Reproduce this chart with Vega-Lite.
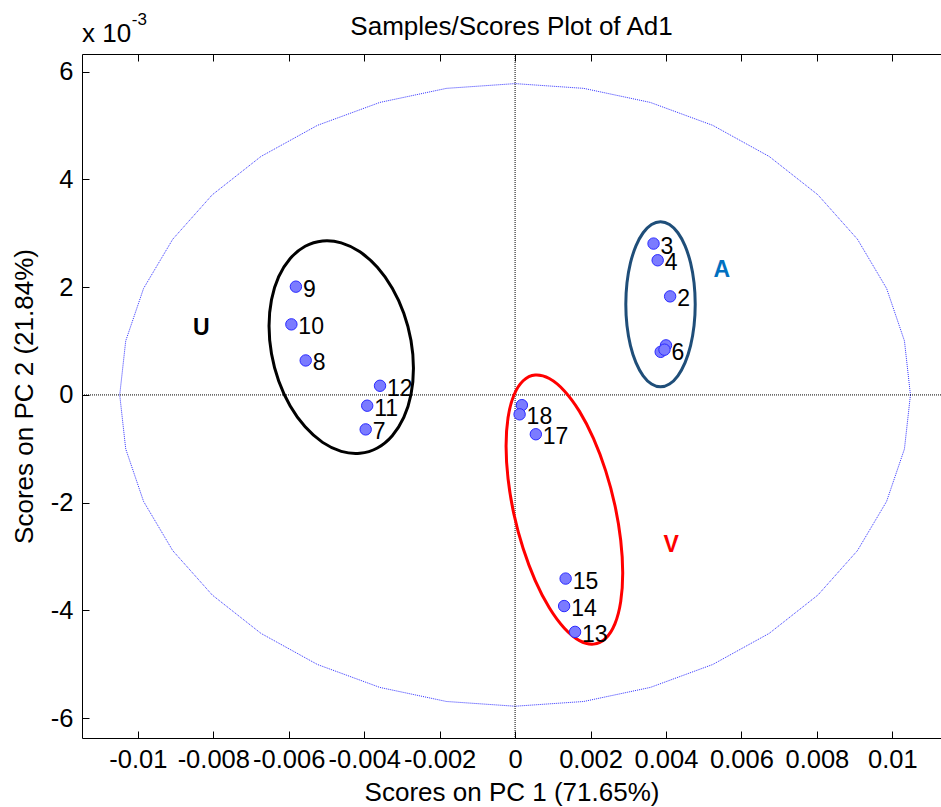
{
  "$schema": "https://vega.github.io/schema/vega-lite/v6.json",
  "width": 859,
  "height": 684,
  "autosize": {"type": "none"},
  "padding": {"left": 82, "top": 54, "right": 0, "bottom": 69},
  "background": "white",
  "config": {"view": {"stroke": null}, "font": "Liberation Sans"},
  "title": {"text": "Samples/Scores Plot of Ad1", "fontSize": 26, "fontWeight": "normal", "font": "Liberation Sans", "color": "black", "anchor": "middle", "baseline": "alphabetic", "offset": -50, "frame": "group"},
  "data": {"values": [{}]},
  "resolve": {"axis": {"x": "independent", "y": "independent"}},
  "datasets": {
    "samples": [
      {"sample": 1, "label": "", "pc1": 0.00386, "pc2": 0.00080},
      {"sample": 2, "label": "2", "pc1": 0.00411, "pc2": 0.00183},
      {"sample": 3, "label": "3", "pc1": 0.00367, "pc2": 0.00281},
      {"sample": 4, "label": "4", "pc1": 0.00378, "pc2": 0.00250},
      {"sample": 5, "label": "", "pc1": 0.00400, "pc2": 0.00092},
      {"sample": 6, "label": "6", "pc1": 0.00396, "pc2": 0.00084},
      {"sample": 7, "label": "7", "pc1": -0.00396, "pc2": -0.00064},
      {"sample": 8, "label": "8", "pc1": -0.00555, "pc2": 0.00064},
      {"sample": 9, "label": "9", "pc1": -0.00581, "pc2": 0.00201},
      {"sample": 10, "label": "10", "pc1": -0.00593, "pc2": 0.00131},
      {"sample": 11, "label": "11", "pc1": -0.00392, "pc2": -0.00020},
      {"sample": 12, "label": "12", "pc1": -0.00358, "pc2": 0.00017},
      {"sample": 13, "label": "13", "pc1": 0.00159, "pc2": -0.00440},
      {"sample": 14, "label": "14", "pc1": 0.00130, "pc2": -0.00392},
      {"sample": 15, "label": "15", "pc1": 0.00134, "pc2": -0.00341},
      {"sample": 16, "label": "", "pc1": 0.00018, "pc2": -0.00019},
      {"sample": 17, "label": "17", "pc1": 0.00055, "pc2": -0.00073},
      {"sample": 18, "label": "18", "pc1": 0.00012, "pc2": -0.00036}
    ],
    "limit": [
      {"i": 0, "pc1": 0.01048, "pc2": 0},
      {"i": 1, "pc1": 0.010321, "pc2": 0.001003},
      {"i": 2, "pc1": 0.009848, "pc2": 0.001977},
      {"i": 3, "pc1": 0.009076, "pc2": 0.002890},
      {"i": 4, "pc1": 0.008028, "pc2": 0.003715},
      {"i": 5, "pc1": 0.006737, "pc2": 0.004427},
      {"i": 6, "pc1": 0.005240, "pc2": 0.005005},
      {"i": 7, "pc1": 0.003584, "pc2": 0.005431},
      {"i": 8, "pc1": 0.001819, "pc2": 0.005692},
      {"i": 9, "pc1": 0, "pc2": 0.00578},
      {"i": 10, "pc1": -0.001819, "pc2": 0.005692},
      {"i": 11, "pc1": -0.003584, "pc2": 0.005431},
      {"i": 12, "pc1": -0.005240, "pc2": 0.005005},
      {"i": 13, "pc1": -0.006737, "pc2": 0.004427},
      {"i": 14, "pc1": -0.008028, "pc2": 0.003715},
      {"i": 15, "pc1": -0.009076, "pc2": 0.002890},
      {"i": 16, "pc1": -0.009848, "pc2": 0.001977},
      {"i": 17, "pc1": -0.010321, "pc2": 0.001003},
      {"i": 18, "pc1": -0.01048, "pc2": 0},
      {"i": 19, "pc1": -0.010321, "pc2": -0.001003},
      {"i": 20, "pc1": -0.009848, "pc2": -0.001977},
      {"i": 21, "pc1": -0.009076, "pc2": -0.002890},
      {"i": 22, "pc1": -0.008028, "pc2": -0.003715},
      {"i": 23, "pc1": -0.006737, "pc2": -0.004427},
      {"i": 24, "pc1": -0.005240, "pc2": -0.005005},
      {"i": 25, "pc1": -0.003584, "pc2": -0.005431},
      {"i": 26, "pc1": -0.001819, "pc2": -0.005692},
      {"i": 27, "pc1": 0, "pc2": -0.00578},
      {"i": 28, "pc1": 0.001819, "pc2": -0.005692},
      {"i": 29, "pc1": 0.003584, "pc2": -0.005431},
      {"i": 30, "pc1": 0.005240, "pc2": -0.005005},
      {"i": 31, "pc1": 0.006737, "pc2": -0.004427},
      {"i": 32, "pc1": 0.008028, "pc2": -0.003715},
      {"i": 33, "pc1": 0.009076, "pc2": -0.002890},
      {"i": 34, "pc1": 0.009848, "pc2": -0.001977},
      {"i": 35, "pc1": 0.010321, "pc2": -0.001003}
    ],
    "groups": [
      {"g": "U", "i": 0, "pc1": -0.002694, "pc2": 0.000497},
      {"g": "U", "i": 1, "pc1": -0.002759, "pc2": 0.000009},
      {"g": "U", "i": 2, "pc1": -0.002950, "pc2": -0.000419},
      {"g": "U", "i": 3, "pc1": -0.003255, "pc2": -0.000757},
      {"g": "U", "i": 4, "pc1": -0.003651, "pc2": -0.000985},
      {"g": "U", "i": 5, "pc1": -0.004113, "pc2": -0.001083},
      {"g": "U", "i": 6, "pc1": -0.004608, "pc2": -0.001048},
      {"g": "U", "i": 7, "pc1": -0.005103, "pc2": -0.000881},
      {"g": "U", "i": 8, "pc1": -0.005565, "pc2": -0.000593},
      {"g": "U", "i": 9, "pc1": -0.005961, "pc2": -0.000205},
      {"g": "U", "i": 10, "pc1": -0.006266, "pc2": 0.000259},
      {"g": "U", "i": 11, "pc1": -0.006457, "pc2": 0.000765},
      {"g": "U", "i": 12, "pc1": -0.006522, "pc2": 0.001279},
      {"g": "U", "i": 13, "pc1": -0.006457, "pc2": 0.001767},
      {"g": "U", "i": 14, "pc1": -0.006266, "pc2": 0.002195},
      {"g": "U", "i": 15, "pc1": -0.005961, "pc2": 0.002533},
      {"g": "U", "i": 16, "pc1": -0.005565, "pc2": 0.002761},
      {"g": "U", "i": 17, "pc1": -0.005103, "pc2": 0.002859},
      {"g": "U", "i": 18, "pc1": -0.004608, "pc2": 0.002824},
      {"g": "U", "i": 19, "pc1": -0.004113, "pc2": 0.002657},
      {"g": "U", "i": 20, "pc1": -0.003651, "pc2": 0.002369},
      {"g": "U", "i": 21, "pc1": -0.003255, "pc2": 0.001981},
      {"g": "U", "i": 22, "pc1": -0.002950, "pc2": 0.001517},
      {"g": "U", "i": 23, "pc1": -0.002759, "pc2": 0.001011},
      {"g": "V", "i": 0, "pc1": 0.002853, "pc2": -0.003308},
      {"g": "V", "i": 1, "pc1": 0.002800, "pc2": -0.003838},
      {"g": "V", "i": 2, "pc1": 0.002646, "pc2": -0.004252},
      {"g": "V", "i": 3, "pc1": 0.002400, "pc2": -0.004521},
      {"g": "V", "i": 4, "pc1": 0.002080, "pc2": -0.004627},
      {"g": "V", "i": 5, "pc1": 0.001707, "pc2": -0.004562},
      {"g": "V", "i": 6, "pc1": 0.001307, "pc2": -0.004332},
      {"g": "V", "i": 7, "pc1": 0.000907, "pc2": -0.003952},
      {"g": "V", "i": 8, "pc1": 0.000534, "pc2": -0.003447},
      {"g": "V", "i": 9, "pc1": 0.000214, "pc2": -0.002853},
      {"g": "V", "i": 10, "pc1": -0.000032, "pc2": -0.002210},
      {"g": "V", "i": 11, "pc1": -0.000186, "pc2": -0.001560},
      {"g": "V", "i": 12, "pc1": -0.000239, "pc2": -0.000950},
      {"g": "V", "i": 13, "pc1": -0.000186, "pc2": -0.000420},
      {"g": "V", "i": 14, "pc1": -0.000032, "pc2": -0.000006},
      {"g": "V", "i": 15, "pc1": 0.000214, "pc2": 0.000263},
      {"g": "V", "i": 16, "pc1": 0.000534, "pc2": 0.000369},
      {"g": "V", "i": 17, "pc1": 0.000907, "pc2": 0.000304},
      {"g": "V", "i": 18, "pc1": 0.001307, "pc2": 0.000074},
      {"g": "V", "i": 19, "pc1": 0.001707, "pc2": -0.000306},
      {"g": "V", "i": 20, "pc1": 0.002080, "pc2": -0.000811},
      {"g": "V", "i": 21, "pc1": 0.002400, "pc2": -0.001405},
      {"g": "V", "i": 22, "pc1": 0.002646, "pc2": -0.002048},
      {"g": "V", "i": 23, "pc1": 0.002800, "pc2": -0.002698},
      {"g": "A", "i": 0, "pc1": 0.004775, "pc2": 0.001683},
      {"g": "A", "i": 1, "pc1": 0.004744, "pc2": 0.001286},
      {"g": "A", "i": 2, "pc1": 0.004652, "pc2": 0.000916},
      {"g": "A", "i": 3, "pc1": 0.004506, "pc2": 0.000599},
      {"g": "A", "i": 4, "pc1": 0.004315, "pc2": 0.000355},
      {"g": "A", "i": 5, "pc1": 0.004093, "pc2": 0.000202},
      {"g": "A", "i": 6, "pc1": 0.003855, "pc2": 0.000150},
      {"g": "A", "i": 7, "pc1": 0.003617, "pc2": 0.000202},
      {"g": "A", "i": 8, "pc1": 0.003395, "pc2": 0.000355},
      {"g": "A", "i": 9, "pc1": 0.003204, "pc2": 0.000599},
      {"g": "A", "i": 10, "pc1": 0.003058, "pc2": 0.000916},
      {"g": "A", "i": 11, "pc1": 0.002966, "pc2": 0.001286},
      {"g": "A", "i": 12, "pc1": 0.002935, "pc2": 0.001683},
      {"g": "A", "i": 13, "pc1": 0.002966, "pc2": 0.002080},
      {"g": "A", "i": 14, "pc1": 0.003058, "pc2": 0.002450},
      {"g": "A", "i": 15, "pc1": 0.003204, "pc2": 0.002767},
      {"g": "A", "i": 16, "pc1": 0.003395, "pc2": 0.003011},
      {"g": "A", "i": 17, "pc1": 0.003617, "pc2": 0.003164},
      {"g": "A", "i": 18, "pc1": 0.003855, "pc2": 0.003216},
      {"g": "A", "i": 19, "pc1": 0.004093, "pc2": 0.003164},
      {"g": "A", "i": 20, "pc1": 0.004315, "pc2": 0.003011},
      {"g": "A", "i": 21, "pc1": 0.004506, "pc2": 0.002767},
      {"g": "A", "i": 22, "pc1": 0.004652, "pc2": 0.002450},
      {"g": "A", "i": 23, "pc1": 0.004744, "pc2": 0.002080}
    ]
  },
  "layer": [
    {
      "data": {"name": "limit"},
      "mark": {"type": "line", "interpolate": "linear-closed", "color": "#1a1aff", "strokeWidth": 0.9, "strokeDash": [1, 1]},
      "encoding": {
        "x": {"field": "pc1", "type": "quantitative",
          "scale": {"domain": [-0.01148, 0.01129], "nice": false, "zero": false},
          "axis": {"orient": "bottom", "values": [-0.01, -0.008, -0.006, -0.004, -0.002, 0, 0.002, 0.004, 0.006, 0.008, 0.01],
            "labelExpr": "replace(format(datum.value, '~g'), '\u2212', '-')",
            "title": "Scores on PC 1 (71.65%)", "grid": false, "domainColor": "black", "tickColor": "black",
            "tickSize": -7, "labelPadding": 16, "labelFontSize": 25.5, "labelFont": "Liberation Sans", "labelColor": "black",
            "titleFontSize": 26, "titleFont": "Liberation Sans", "titleFontWeight": "normal", "titleColor": "black", "titlePadding": 7,
            "labelFlush": false, "labelOverlap": false}},
        "y": {"field": "pc2", "type": "quantitative",
          "scale": {"domain": [-0.00637, 0.00633], "nice": false, "zero": false},
          "axis": {"orient": "left", "values": [-0.006, -0.004, -0.002, 0, 0.002, 0.004, 0.006],
            "labelExpr": "replace(format(datum.value * 1000, '~g'), '\u2212', '-')",
            "title": "Scores on PC 2 (21.84%)", "grid": false, "domainColor": "black", "tickColor": "black",
            "tickSize": -7, "labelPadding": 16, "labelFontSize": 25.5, "labelFont": "Liberation Sans", "labelColor": "black",
            "titleFontSize": 26, "titleFont": "Liberation Sans", "titleFontWeight": "normal", "titleColor": "black", "titlePadding": 13,
            "labelFlush": false, "labelOverlap": false}},
        "order": {"field": "i", "type": "quantitative"}
      }
    },
    {
      "mark": {"type": "rule", "color": "black", "strokeWidth": 1, "strokeDash": [1, 1]},
      "encoding": {
        "x": {"datum": 0, "type": "quantitative",
          "axis": {"orient": "top", "values": [-0.01, -0.008, -0.006, -0.004, -0.002, 0, 0.002, 0.004, 0.006, 0.008, 0.01],
            "labels": false, "title": null, "grid": false, "domainColor": "black", "tickColor": "black", "tickSize": -7}}
      }
    },
    {
      "mark": {"type": "rule", "color": "black", "strokeWidth": 1, "strokeDash": [1, 1]},
      "encoding": {
        "y": {"datum": 0, "type": "quantitative", "axis": null}
      }
    },
    {
      "data": {"name": "groups"},
      "mark": {"type": "line", "interpolate": "cardinal-closed", "strokeWidth": 3},
      "encoding": {
        "x": {"field": "pc1", "type": "quantitative", "axis": null},
        "y": {"field": "pc2", "type": "quantitative", "axis": null},
        "detail": {"field": "g"},
        "order": {"field": "i", "type": "quantitative"},
        "color": {"field": "g", "type": "nominal", "scale": {"domain": ["U", "V", "A"], "range": ["#000000", "#ff0000", "#1f4e79"]}, "legend": null}
      }
    },
    {
      "data": {"name": "samples"},
      "mark": {"type": "circle", "size": 130, "fill": "#7b7bff", "stroke": "#2a2aff", "strokeWidth": 1, "opacity": 1},
      "encoding": {
        "x": {"field": "pc1", "type": "quantitative", "axis": null},
        "y": {"field": "pc2", "type": "quantitative", "axis": null}
      }
    },
    {
      "data": {"name": "samples"},
      "mark": {"type": "text", "align": "left", "baseline": "middle", "dx": 7, "dy": 3, "fontSize": 23, "font": "Liberation Sans", "color": "black"},
      "encoding": {
        "x": {"field": "pc1", "type": "quantitative", "axis": null},
        "y": {"field": "pc2", "type": "quantitative", "axis": null},
        "text": {"field": "label"}
      }
    },
    {
      "mark": {"type": "text", "align": "center", "baseline": "alphabetic", "fontSize": 23, "fontWeight": "bold", "font": "Liberation Sans", "color": "black", "text": "U"},
      "encoding": {
        "x": {"datum": -0.00832, "type": "quantitative", "axis": null},
        "y": {"datum": 0.001111, "type": "quantitative", "axis": null}
      }
    },
    {
      "mark": {"type": "text", "align": "center", "baseline": "alphabetic", "fontSize": 23, "fontWeight": "bold", "font": "Liberation Sans", "color": "#0070c0", "text": "A"},
      "encoding": {
        "x": {"datum": 0.00548, "type": "quantitative", "axis": null},
        "y": {"datum": 0.002194, "type": "quantitative", "axis": null}
      }
    },
    {
      "mark": {"type": "text", "align": "center", "baseline": "alphabetic", "fontSize": 23, "fontWeight": "bold", "font": "Liberation Sans", "color": "#ff0000", "text": "V"},
      "encoding": {
        "x": {"datum": 0.00414, "type": "quantitative", "axis": null},
        "y": {"datum": -0.00292, "type": "quantitative", "axis": null}
      }
    },
    {
      "mark": {"type": "text", "align": "left", "baseline": "alphabetic", "fontSize": 26, "font": "Liberation Sans", "color": "black", "text": "x 10"},
      "encoding": {
        "x": {"datum": -0.01148, "type": "quantitative", "axis": null},
        "y": {"datum": 0.006548, "type": "quantitative", "axis": null}
      }
    },
    {
      "mark": {"type": "text", "align": "left", "baseline": "alphabetic", "fontSize": 17, "font": "Liberation Sans", "color": "black", "text": "-3"},
      "encoding": {
        "x": {"datum": -0.010162, "type": "quantitative", "axis": null},
        "y": {"datum": 0.00687, "type": "quantitative", "axis": null}
      }
    }
  ]
}
